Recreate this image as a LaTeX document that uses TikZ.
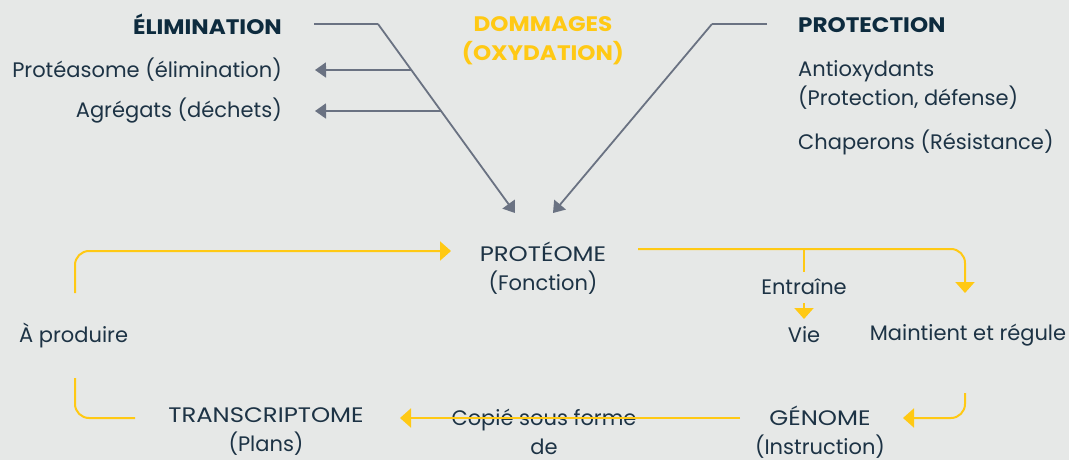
\documentclass[tikz,border=0pt]{standalone}
\usepackage{fontspec}
\setmainfont{Poppins}
\usetikzlibrary{arrows.meta,calc}
\definecolor{bg}{HTML}{E6E8E7}
\definecolor{ink}{HTML}{1D3345}
\definecolor{ttlc}{HTML}{0D2B3E}
\definecolor{gold}{HTML}{FFC914}
\definecolor{slate}{HTML}{6A7282}
\newcommand\wcap[1]{\scalebox{1.16}[1]{#1}}
\newcommand\wttl[1]{\scalebox{1.10}[1]{#1}}
\tikzset{
  txt/.style={text=ink, font=\fontsize{21}{29}\selectfont, inner sep=0pt, align=center},
  ttl/.style={text=ttlc, font=\bfseries\fontsize{21}{29}\selectfont, inner sep=0pt},
  dmg/.style={text=gold, font=\bfseries\fontsize{21}{29}\selectfont, inner sep=0pt, align=center},
  gl/.style={draw=slate, line width=1.8pt},
  garr/.style={gl, -{Triangle[length=11pt,width=15pt]}},
  yl/.style={draw=gold, line width=2pt, rounded corners=14pt},
  yarr/.style={yl, -{Triangle[length=11pt,width=19pt]}},
}
\begin{document}
\begin{tikzpicture}[x=1pt,y=-1pt]
\fill[bg] (0,0) rectangle (1069,460);
\useasboundingbox (0,0) rectangle (1069,460);

% top left
\node[ttl, anchor=east] (elim) at (282,24) {\wttl{ÉLIMINATION}};
\node[txt, anchor=east] (prot) at (282,70) {Protéasome (élimination)};
\node[txt, anchor=east] (agr) at (282,111) {Agrégats (déchets)};
% top centre
\node[dmg] (dom) at (543,41) {\wttl{DOMMAGES}\\\wttl{(OXYDATION)}};
% top right
\node[ttl, anchor=west] (protec) at (798,25) {\wttl{PROTECTION}};
\node[txt, anchor=west, align=left] (anti) at (798,85) {Antioxydants\\(Protection, défense)};
\node[txt, anchor=west] (chap) at (798,142) {Chaperons (Résistance)};

% cycle
\node[txt] (proteome) at (543,268) {\wcap{PROTÉOME}\\(Fonction)};
\node[txt] (entr) at (804,287) {Entraîne};
\node[txt] (vie) at (804,335) {Vie};
\node[txt] (maint) at (968,335) {Maintient et régule};
\node[txt, anchor=west] (prod) at (19,335) {À produire};
\node[txt] (genome) at (820,432) {\wcap{GÉNOME}\\(Instruction)};
\node[txt] (copie) at (544,432) {Copié sous forme\\de};
\node[txt] (trans) at (266,432) {\wcap{TRANSCRIPTOME}\\(Plans)};

% grey connectors
\coordinate (e1) at (314,24);
\coordinate (e2) at (378,24);
\coordinate (eT) at (515,213);
\draw[gl] (e1) -- (e2);
\draw[garr] (e2) -- (eT);
\coordinate (b1) at ($(e2)!0.243!(eT)$);
\coordinate (b2) at ($(e2)!0.460!(eT)$);
\draw[garr] (b1) -- ($(prot.east)+(33,0)$);
\draw[garr] (b2) -- ($(agr.east)+(33,0)$);
\coordinate (p1) at (767,24);
\coordinate (p2) at (712,24);
\coordinate (pT) at (553,213);
\draw[gl] (p1) -- (p2);
\draw[garr] (p2) -- (pT);

% yellow connectors
\coordinate (lt) at (75,293);
\coordinate (lc) at (75,251);
\coordinate (lT) at (451,251);
\draw[yarr] (lt) -- (lc) -- (lT);
\coordinate (r0) at (638,249);
\coordinate (rc) at (965,249);
\coordinate (rT) at (965,293);
\coordinate (rb) at (804,249);
\coordinate (rb2) at (804,272);
\draw[yarr] (r0) -- (rc) -- (rT);
\draw[yl] (rb) -- (rb2);
\coordinate (v0) at (804,303);
\coordinate (vT) at (804,319);
\draw[yarr] (v0) -- (vT);
\coordinate (g0) at (965,393);
\coordinate (gc) at (965,418);
\coordinate (gT) at (903,418);
\draw[yarr] (g0) -- (gc) -- (gT);
\coordinate (c0) at (740,418);
\coordinate (cT) at (400,418);
\draw[yarr] (c0) -- (cT);
\coordinate (t0) at (75,378);
\coordinate (tc) at (75,418);
\coordinate (tE) at (135,418);
\draw[yl] (t0) -- (tc) -- (tE);
\end{tikzpicture}
\end{document}
